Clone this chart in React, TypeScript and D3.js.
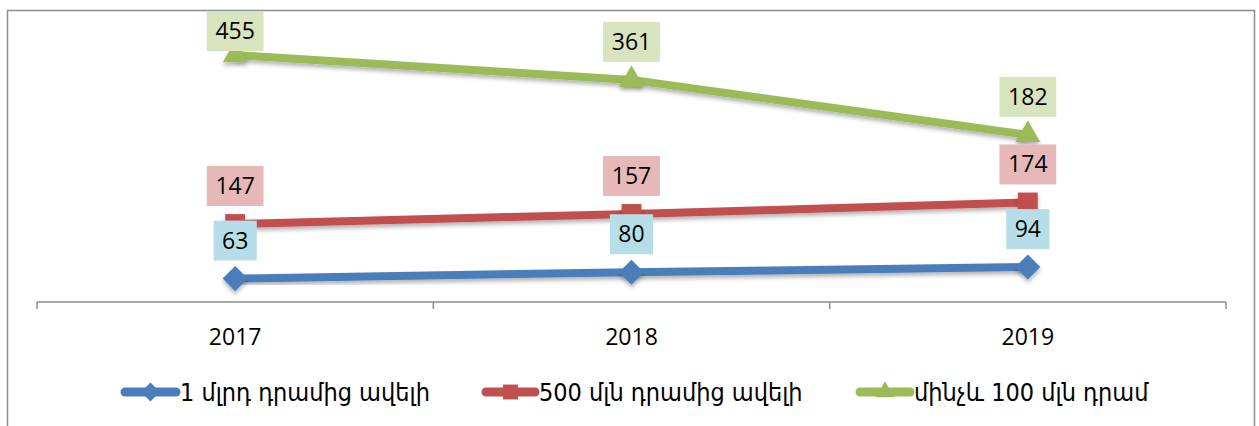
import React from "react";
import * as d3 from "d3";

const width = 1259;
const height = 426;

const years = ["2017", "2018", "2019"];
const overBillion = [63, 80, 94];
const over500m = [147, 157, 174];
const upTo100m = [455, 361, 182];

const seriesNames = ["1 մլրդ դրամից ավելի", "500 մլն դրամից ավելի", "մինչև 100 մլն դրամ"];
const lineColors = ["#4a7ebb", "#c0504d", "#9bbb59"];
const labelFills = ["#b7dee8", "#e6b9b8", "#d7e4bd"];
const markerKinds = ["diamond", "square", "triangle"];

const margin = { top: 42, right: 33, bottom: 124, left: 37 };

const x = d3.scaleBand().domain(years).range([margin.left, width - margin.right]);
const y = d3.scaleLinear().domain([0, 700]).range([height - margin.bottom, margin.top]);

// stacked line chart
const raw = [overBillion, over500m, upTo100m];
const stacked = raw.map((vals, si) =>
  vals.map((v, i) => ({
    year: years[i],
    value: v,
    total: d3.sum(raw.slice(0, si + 1), s => s[i]),
  }))
);

const symbolFor = (kind: string) => {
  if (kind === "diamond") return d3.symbol().type(d3.symbolDiamond2).size(400)();
  if (kind === "square") return d3.symbol().type(d3.symbolSquare2).size(500)();
  return d3.symbol().type(d3.symbolTriangle2).size(440)();
};

const numFont = "'Open Sans', 'DejaVu Sans', sans-serif";
const legendFont = "'DejaVu Sans Condensed', 'DejaVu Sans', sans-serif";

export default function App() {
  const line = d3
    .line<any>()
    .x(d => x(d.year)! + x.bandwidth() / 2)
    .y(d => y(d.total));
  const axisY = y(0);
  const tickXs = [...years.map(d => x(d)!), x.range()[1]];

  const legendItems = [
    { x0: 121, tx: 180 },
    { x0: 482, tx: 539 },
    { x0: 856, tx: 914 },
  ];
  const legendY = 392;

  return (
    <svg width={width} height={height} style={{ position: "absolute", left: 0, top: 0 }}>
      <defs>
        <filter id="shadow" x="-50%" y="-50%" width="200%" height="200%">
          <feDropShadow dx="0" dy="3" stdDeviation="2" floodColor="#000" floodOpacity="0.3" />
        </filter>
      </defs>
      <rect x={7.5} y={10.5} width={1247} height={430} fill="#fff" stroke="#8c8c8c" strokeWidth={1.5} />

      {/* x axis */}
      <g>
        <line x1={x.range()[0]} x2={x.range()[1]} y1={axisY} y2={axisY} stroke="#8c8c8c" strokeWidth={1.5} />
        {tickXs.map((tx, i) => (
          <line key={i} x1={tx} x2={tx} y1={axisY} y2={axisY + 7} stroke="#8c8c8c" strokeWidth={1.5} />
        ))}
        {years.map(d => (
          <text key={d} x={x(d)! + x.bandwidth() / 2} y={345} textAnchor="middle" fontFamily={numFont} fontSize={23} fill="#000">
            {d}
          </text>
        ))}
      </g>

      {/* lines */}
      {stacked.map((s, si) => (
        <path key={si} d={line(s)!} fill="none" stroke={lineColors[si]} strokeWidth={8} strokeLinejoin="round" filter="url(#shadow)" />
      ))}

      {/* markers */}
      {stacked.map((s, si) =>
        s.map((d, i) => (
          <path
            key={si + "-" + i}
            d={symbolFor(markerKinds[si])!}
            transform={`translate(${x(d.year)! + x.bandwidth() / 2},${y(d.total)})`}
            fill={lineColors[si]}
            filter="url(#shadow)"
          />
        ))
      )}

      {/* data labels */}
      {stacked.map((s, si) =>
        s.map((d, i) => {
          const cx = x(d.year)! + x.bandwidth() / 2;
          const label = String(d.value);
          const w = label.length * 13.6 + 16;
          const h = 40;
          let top = y(d.total) - 18 - h;
          if (top < 11) top = 11;
          return (
            <g key={"l" + si + "-" + i}>
              <rect x={cx - w / 2} y={top} width={w} height={h} fill={labelFills[si]} />
              <text x={cx} y={top + h / 2 + 8} textAnchor="middle" fontFamily={numFont} fontSize={23} fill="#000">
                {label}
              </text>
            </g>
          );
        })
      )}

      {/* legend */}
      {legendItems.map((it, i) => (
        <g key={"lg" + i}>
          <line x1={it.x0 + 4} x2={it.tx - 4} y1={legendY} y2={legendY} stroke={lineColors[i]} strokeWidth={9} strokeLinecap="round" />
          <path d={symbolFor(markerKinds[i])!} transform={`translate(${(it.x0 + it.tx) / 2},${legendY}) scale(0.75)`} fill={lineColors[i]} />
          <text x={it.tx} y={legendY + 9} fontFamily={legendFont} fontSize={25} fill="#000">
            {seriesNames[i]}
          </text>
        </g>
      ))}
    </svg>
  );
}
